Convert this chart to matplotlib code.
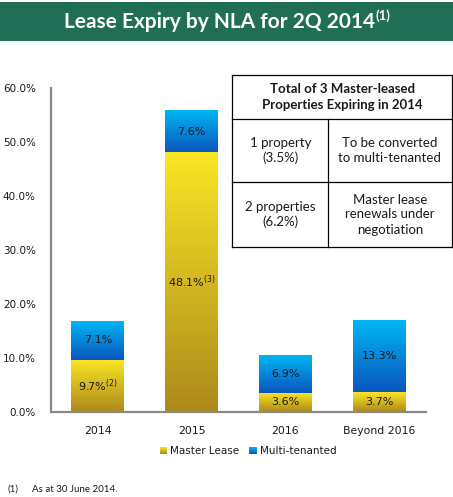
import numpy as np
import matplotlib
matplotlib.use("Agg")
import matplotlib.pyplot as plt
from matplotlib.colors import LinearSegmentedColormap
from matplotlib.patches import Rectangle
from matplotlib.lines import Line2D
from matplotlib.legend_handler import HandlerBase

# ---------------- data ----------------
categories = ["2014", "2015", "2016", "Beyond 2016"]
master_lease = [9.7, 48.1, 3.6, 3.7]
multi_tenanted = [7.1, 7.6, 6.9, 13.3]
master_notes = ["(2)", "(3)", "", ""]
multi_notes = ["", "", "", ""]
yticks = [0, 10, 20, 30, 40, 50, 60]
series_names = ["Master Lease", "Multi-tenanted"]

title_main = "Lease Expiry by NLA for 2Q 2014"
title_note = "(1)"
table_header = "Total of 3 Master-leased\nProperties Expiring in 2014"
table_rows = [
    ["1 property\n(3.5%)", "To be converted\nto multi-tenanted"],
    ["2 properties\n(6.2%)", "Master lease\nrenewals under\nnegotiation"],
]
footnote_mark = "(1)"
footnote_text = "As at 30 June 2014."

# ---------------- style ----------------
W, H = 453, 497
YEL_TOP, YEL_BOT = "#fae625", "#ad891b"
BLU_TOP, BLU_BOT = "#00b6f4", "#0b56bd"
GREEN = "#1f6e55"
AXIS_GRAY = "#898989"
TXT = "#1a1a1a"
TFONT = "Lato"

cmap_y = LinearSegmentedColormap.from_list("y", [YEL_BOT, YEL_TOP])
cmap_b = LinearSegmentedColormap.from_list("b", [BLU_BOT, BLU_TOP])


def fx(px):
    return px / W


def fy(py):
    return 1 - py / H


fig = plt.figure(figsize=(W / 100, H / 100), dpi=100)

# title band
fig.patches.append(Rectangle((0, fy(41)), 1, 39 / H, transform=fig.transFigure,
                             facecolor=GREEN, edgecolor="none", zorder=0))

ax = fig.add_axes([fx(51), fy(412), 375 / W, 324 / H])
x = np.arange(len(categories))
width = 0.565
bars_m = ax.bar(x, master_lease, width, color="none", edgecolor="none")
bars_t = ax.bar(x, multi_tenanted, width, bottom=master_lease, color="none",
                edgecolor="none")

grad = np.linspace(0, 1, 256).reshape(-1, 1)
for bars, cmap in ((bars_m, cmap_y), (bars_t, cmap_b)):
    for p in bars:
        x0, y0 = p.get_x(), p.get_y()
        ax.imshow(grad, extent=[x0, x0 + p.get_width(), y0, y0 + p.get_height()],
                  origin="lower", aspect="auto", cmap=cmap, zorder=2,
                  interpolation="bilinear")

for bars, vals, notes in ((bars_m, master_lease, master_notes),
                          (bars_t, multi_tenanted, multi_notes)):
    for p, v, n in zip(bars, vals, notes):
        label = f"{v:.1f}%" + (f"$^{{{n}}}$" if n else "")
        ax.text(p.get_x() + p.get_width() / 2, p.get_y() + p.get_height() / 2,
                label, ha="center", va="center", fontsize=8, color=TXT, zorder=3)

ax.set_xlim(-0.5, 3.5)
ax.set_ylim(0, 60)
ax.set_xticks(x)
ax.set_xticklabels(categories, fontsize=7.8, color=TXT)
ax.set_yticks(yticks)
ax.set_yticklabels([f"{v:.1f}%" for v in yticks], fontsize=7.5, color=TXT)
ax.tick_params(axis="y", length=0, pad=11)
ax.tick_params(axis="x", length=0, pad=10)
for s in ("top", "right"):
    ax.spines[s].set_visible(False)
for s in ("left", "bottom"):
    ax.spines[s].set_color(AXIS_GRAY)
    ax.spines[s].set_linewidth(1.6)
ax.set_facecolor("none")


class GradHandler(HandlerBase):
    def __init__(self, top, bot, n=10):
        super().__init__()
        self.cols = LinearSegmentedColormap.from_list("g", [bot, top])
        self.n = n

    def create_artists(self, legend, orig_handle, xdescent, ydescent, width,
                       height, fontsize, trans):
        arts = []
        side = min(width, height)
        x0 = -xdescent + (width - side) / 2
        y0 = -ydescent + (height - side) / 2
        h = side / self.n
        for i in range(self.n):
            arts.append(Rectangle((x0, y0 + i * h), side, h * 1.05,
                                  facecolor=self.cols(i / (self.n - 1)),
                                  edgecolor="none", transform=trans))
        return arts


h1 = Rectangle((0, 0), 1, 1)
h2 = Rectangle((0, 0), 1, 1)
fig.legend([h1, h2], series_names, loc="center",
           bbox_to_anchor=(fx(248), fy(451)), ncol=2, frameon=False,
           fontsize=7.5, handlelength=0.75, handleheight=0.75,
           handletextpad=0.3, columnspacing=0.9, labelcolor=TXT,
           handler_map={h1: GradHandler(YEL_TOP, YEL_BOT),
                        h2: GradHandler(BLU_TOP, BLU_BOT)})

# title
fig.canvas.draw()
rend = fig.canvas.get_renderer()
t_main = fig.text(0, fy(22), title_main, ha="left", va="center",
                  fontsize=15, fontweight="bold", color="white", family=TFONT)
t_sup = fig.text(0, fy(16), title_note, ha="left", va="center",
                 fontsize=9.5, fontweight="bold", color="white", family=TFONT)
bm = t_main.get_window_extent(rend)
bs = t_sup.get_window_extent(rend)
total = bm.width + 1 + bs.width
start = (fx(227) * W) - total / 2
t_main.set_x(start / W)
t_sup.set_x((start + bm.width + 1) / W)

# table
lc, lw = "black", 0.9
L, M, R = 232.5, 328, 451.5
T, R1, R2, B = 75, 119, 182, 247
for (a, b), (c, d) in [((L, R), (T, T)), ((L, R), (R1, R1)), ((L, R), (R2, R2)),
                       ((L, R), (B, B)), ((L, L), (T, B)), ((R, R), (T, B)),
                       ((M, M), (R1, B))]:
    fig.add_artist(Line2D([fx(a), fx(b)], [fy(c), fy(d)], color=lc, lw=lw,
                          transform=fig.transFigure))
fig.text(fx((L + R) / 2), fy((T + R1) / 2), table_header, ha="center",
         va="center", fontsize=9.5, fontweight="bold", family=TFONT,
         color=TXT, linespacing=1.35)
rows_y = [(R1 + R2) / 2, (R2 + B) / 2]
for row, yc in zip(table_rows, rows_y):
    fig.text(fx((L + M) / 2), fy(yc), row[0], ha="center", va="center",
             fontsize=9.5, family=TFONT, color=TXT, linespacing=1.3)
    fig.text(fx((M + R) / 2), fy(yc), row[1], ha="center", va="center",
             fontsize=9.5, family=TFONT, color=TXT, linespacing=1.3)

# footnote
fig.text(fx(8), fy(489), footnote_mark, ha="left", va="center", fontsize=7,
         family=TFONT, color=TXT)
fig.text(fx(32), fy(489), footnote_text, ha="left", va="center", fontsize=7,
         family=TFONT, color=TXT)

fig.savefig("out.png", dpi=100)
